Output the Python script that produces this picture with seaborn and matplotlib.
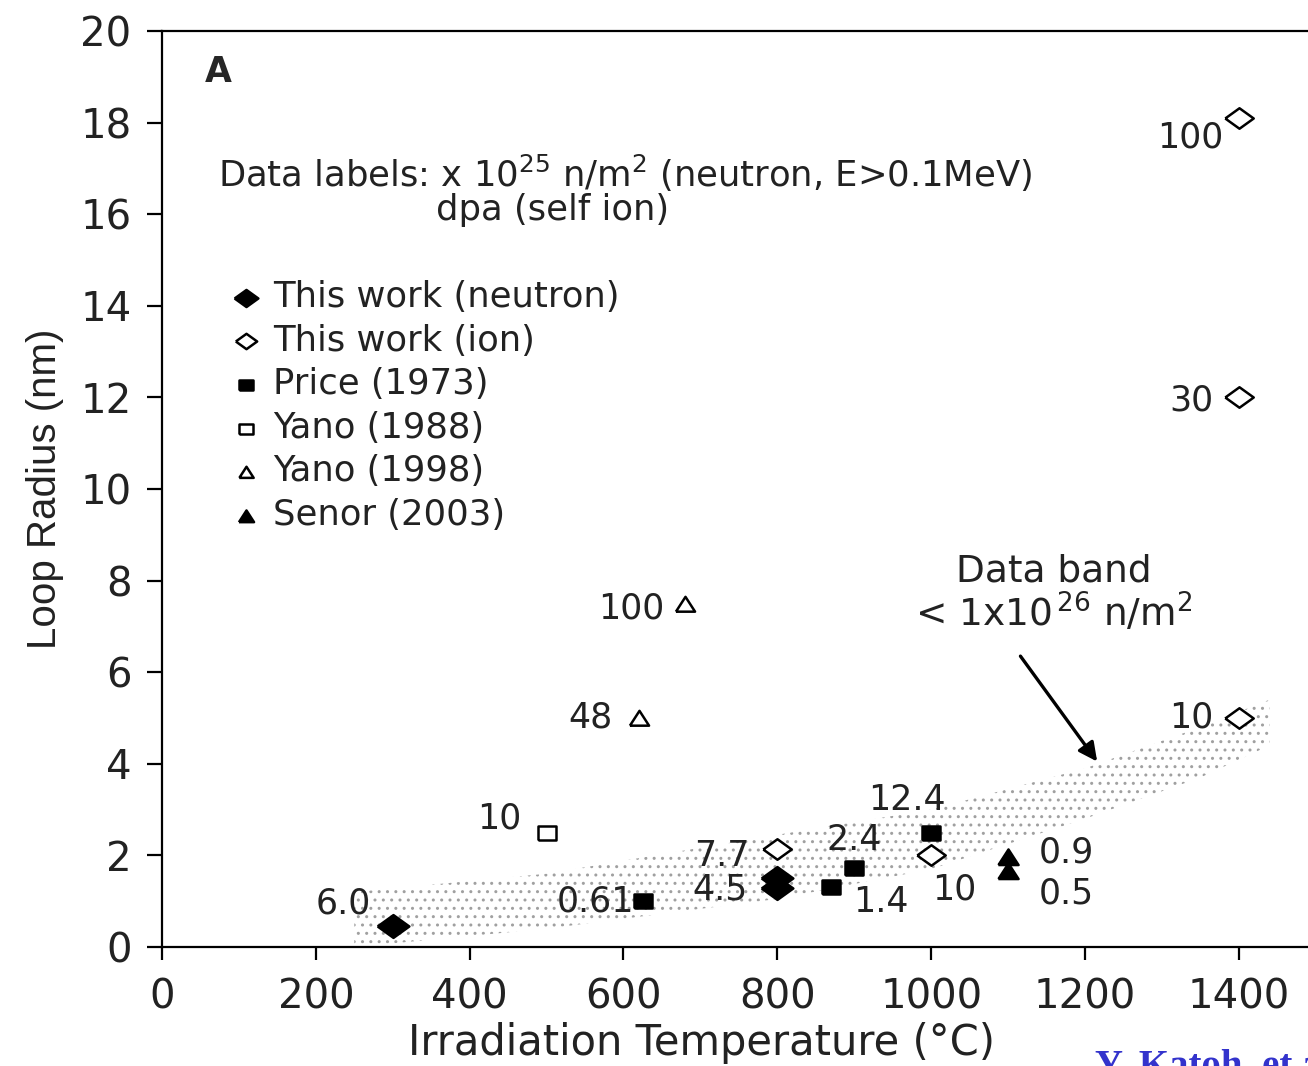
import numpy as np
import pandas as pd
import seaborn as sns
import matplotlib.pyplot as plt

sns.set_theme(style="ticks")
plt.rcParams['font.family'] = ['DejaVu Sans']
plt.rcParams['hatch.linewidth'] = 1.0

# data (temperature in C, loop radius in nm, data label)
neutron_t = [300, 800, 800]
neutron_r = [0.45, 1.5, 1.28]
neutron_lab = ["6.0", "", "4.5"]

ion_t = [1400, 1400, 1400, 800, 1000]
ion_r = [18.1, 12.0, 5.0, 2.15, 2.0]
ion_lab = ["100", "30", "10", "7.7", "10"]

price_t = [625, 870, 900, 1000]
price_r = [1.0, 1.3, 1.72, 2.5]
price_lab = ["0.61", "1.4", "2.4", "12.4"]

yano88_t = [500]
yano88_r = [2.5]
yano88_lab = ["10"]

yano98_t = [680, 620]
yano98_r = [7.5, 5.0]
yano98_lab = ["100", "48"]

senor_t = [1100, 1100]
senor_r = [1.97, 1.65]
senor_lab = ["0.9", "0.5"]

# data band outline
band_t = [250, 500, 800, 1000, 1200, 1350, 1440]
band_hi = [1.2, 1.6, 2.45, 3.0, 3.9, 4.8, 5.4]
band_lo = [0.0, 0.4, 1.05, 1.7, 2.8, 3.7, 4.4]

wide_diamond = [(-1, 0), (0, 0.72), (1, 0), (0, -0.72), (-1, 0)]
wide_square = [(-1, -0.8), (1, -0.8), (1, 0.8), (-1, 0.8), (-1, -0.8)]
wide_tri = [(-1, -0.75), (1, -0.75), (0, 0.8), (-1, -0.75)]

fig = plt.figure(figsize=(13.08, 10.66), dpi=100)
ax = fig.add_axes([162 / 1308, 119 / 1066, 1146 / 1308, 916 / 1066])

ax.fill_between(band_t, band_lo, band_hi, facecolor='none', edgecolor='#a0a0a0',
                hatch='..', linewidth=0, zorder=1)

series = [
    ("This work (neutron)", neutron_t, neutron_r, wide_diamond, 'black', 520),
    ("This work (ion)", ion_t, ion_r, wide_diamond, 'white', 420),
    ("Price (1973)", price_t, price_r, wide_square, 'black', 165),
    ("Yano (1988)", yano88_t, yano88_r, wide_square, 'white', 165),
    ("Yano (1998)", yano98_t, yano98_r, wide_tri, 'white', 190),
    ("Senor (2003)", senor_t, senor_r, wide_tri, 'black', 210),
]
for name, t, r, m, fc, s in series:
    sns.scatterplot(x=t, y=r, marker=m, s=s, facecolor=fc, edgecolor='black',
                    linewidth=1.8, label=name, ax=ax, zorder=3)

# label offsets in pixels (dx, dy, ha)
def put_labels(t, r, labs, offs):
    for x, y, lab, (dx, dy, ha) in zip(t, r, labs, offs):
        if lab:
            ax.annotate(lab, (x, y), xytext=(dx, dy), textcoords='offset pixels',
                        ha=ha, va='center', fontsize=25, color='#222222', zorder=4)

put_labels(neutron_t, neutron_r, neutron_lab,
           [(-22, 23, 'right'), (0, 0, 'right'), (-30, -1, 'right')])
put_labels(ion_t, ion_r, ion_lab,
           [(-15, -19, 'right'), (-25, -3, 'right'), (-25, 0, 'right'),
            (-28, -7, 'right'), (23, -34, 'center')])
put_labels(price_t, price_r, price_lab,
           [(-8, 0, 'right'), (50, -15, 'center'), (0, 28, 'center'), (-24, 32, 'center')])
put_labels(yano88_t, yano88_r, yano88_lab, [(-25, 14, 'right')])
put_labels(yano98_t, yano98_r, yano98_lab, [(-21, -5, 'right'), (-26, 0, 'right')])
put_labels(senor_t, senor_r, senor_lab, [(31, 4, 'left'), (31, -22, 'left')])

ax.text(56, 19.1, "A", fontsize=25, fontweight='bold', va='center', ha='left')
ax.text(73, 16.9, r"Data labels: x 10$^{25}$ n/m$^{2}$ (neutron, E>0.1MeV)",
        fontsize=25.5, va='center', ha='left', color='#222222')
ax.text(508, 16.1, "dpa (self ion)", fontsize=25.5, va='center', ha='center', color='#222222')
ax.text(1160, 8.2, "Data band", fontsize=27, va='center', ha='center', color='#222222')
ax.text(1160, 7.3, r"< 1x10$^{\,26}$ n/m$^{2}$", fontsize=27, va='center', ha='center',
        color='#222222')
ax.annotate("", xy=(1218, 4.0), xytext=(1114, 6.4),
            arrowprops=dict(arrowstyle='-|>', lw=2.4, color='black', mutation_scale=28))

leg = ax.legend(loc='upper left', bbox_to_anchor=(0.058, 0.728), frameon=False,
                fontsize=25.5, handletextpad=0.25, labelspacing=0.27, borderpad=0,
                borderaxespad=0, handlelength=1.0, markerscale=0.75)
for txt in leg.get_texts():
    txt.set_color('#222222')

ax.set_xlim(0, 1490)
ax.set_ylim(0, 20)
ax.set_xticks(range(0, 1401, 200))
ax.set_yticks(range(0, 21, 2))
ax.tick_params(axis='both', labelsize=29, direction='out', width=1.6, color='black',
               labelcolor='#222222')
ax.tick_params(axis='y', length=11, pad=11)
ax.tick_params(axis='x', length=9, pad=13)
for side in ['left', 'bottom', 'top']:
    ax.spines[side].set_linewidth(1.6)
    ax.spines[side].set_color('black')
ax.spines['right'].set_visible(False)

ax.set_xlabel("Irradiation Temperature (°C)", fontsize=30, color='#222222')
ax.xaxis.set_label_coords(0.471, -0.082)
ax.set_ylabel("Loop Radius (nm)", fontsize=29, color='#222222', family='Liberation Sans',
              labelpad=12)

fig.text(1095 / 1308, 0.016, "Y. Katoh, et al.", fontsize=28, fontweight='bold',
         family='Liberation Serif', color='#3333cc', ha='left', va='top')

fig.savefig("out.png", dpi=100)
